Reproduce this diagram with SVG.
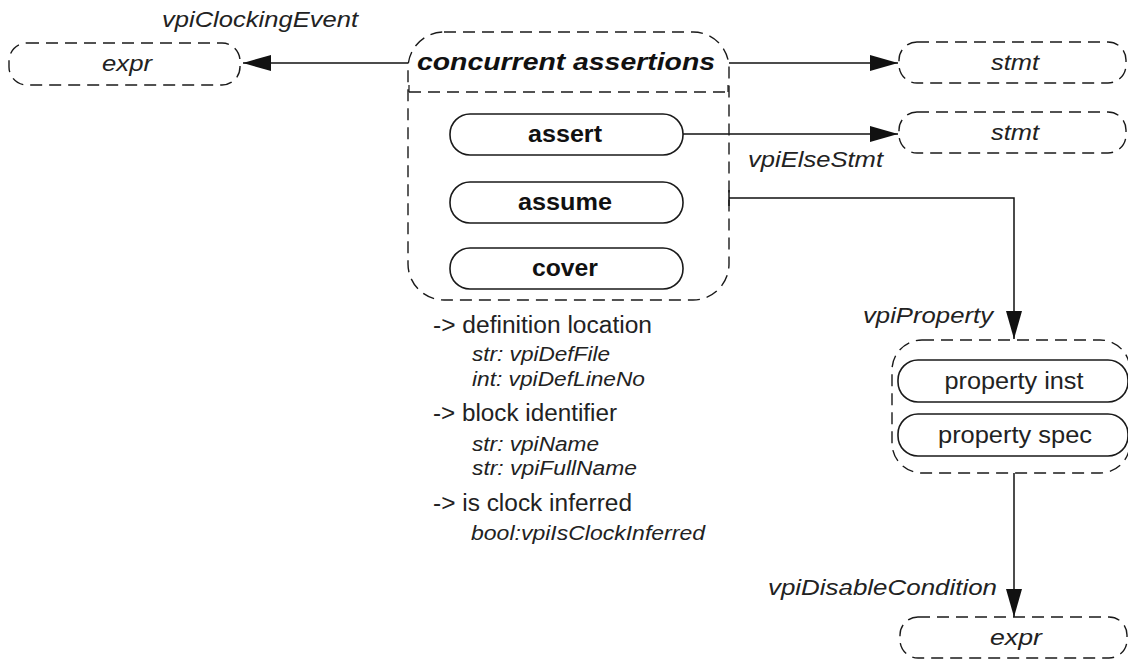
<svg xmlns="http://www.w3.org/2000/svg" width="1128" height="661" viewBox="0 0 1128 661">
<defs>
<style>
.dash{fill:none;stroke:#1a1a1a;stroke-width:1.4;stroke-dasharray:12 7}
.node{fill:#fff;stroke:#1a1a1a;stroke-width:1.6}
.ln{fill:none;stroke:#111;stroke-width:1.5}
.lbl{font-family:"Liberation Sans",Arial,sans-serif;font-style:italic;font-size:22px;fill:#222}
.bold{font-family:"Liberation Sans",Arial,sans-serif;font-weight:bold;font-size:23px;fill:#111;text-anchor:middle}
.title{font-family:"Liberation Sans",Arial,sans-serif;font-weight:bold;font-style:italic;font-size:24px;fill:#111;text-anchor:middle}
.plain{font-family:"Liberation Sans",Arial,sans-serif;font-size:23px;fill:#222}
.prop{font-family:"Liberation Sans",Arial,sans-serif;font-size:23px;fill:#222;text-anchor:middle}
.it{font-family:"Liberation Sans",Arial,sans-serif;font-style:italic;font-size:20px;fill:#222}
.mid{text-anchor:middle}
</style>
<marker id="arr" markerWidth="30" markerHeight="18" refX="28" refY="8" orient="auto" markerUnits="userSpaceOnUse">
<path d="M0,0 L28,8 L0,16 Z" fill="#111"/>
</marker>
</defs>
<rect width="1128" height="661" fill="#fff"/>

<g id="connectors">
<line class="ln" x1="408" y1="63" x2="243" y2="63" marker-end="url(#arr)"/>
<line class="ln" x1="729" y1="63" x2="898" y2="63" marker-end="url(#arr)"/>
<line class="ln" x1="683" y1="134" x2="898" y2="134" marker-end="url(#arr)"/>
<path class="ln" d="M729,198 H1014 V339" marker-end="url(#arr)"/>
<line class="ln" x1="729" y1="190" x2="729" y2="206"/>
<line class="ln" x1="1014" y1="473" x2="1014" y2="617" marker-end="url(#arr)"/>
<text class="lbl" x="162" y="27" textLength="196" lengthAdjust="spacingAndGlyphs">vpiClockingEvent</text>
<text class="lbl" x="748" y="167" textLength="135" lengthAdjust="spacingAndGlyphs">vpiElseStmt</text>
<text class="lbl" x="863" y="323" textLength="130" lengthAdjust="spacingAndGlyphs">vpiProperty</text>
<text class="lbl" x="768" y="595" textLength="229" lengthAdjust="spacingAndGlyphs">vpiDisableCondition</text>
</g>

<g id="expr-left">
<rect class="dash" x="9" y="43" width="231" height="42" rx="18"/>
<text class="lbl mid" x="127" y="71" textLength="50" lengthAdjust="spacingAndGlyphs">expr</text>
</g>

<g id="stmt-top">
<rect class="dash" x="899" y="42" width="227" height="41" rx="18"/>
<text class="lbl mid" x="1015" y="70" textLength="48" lengthAdjust="spacingAndGlyphs">stmt</text>
</g>

<g id="stmt-else">
<rect class="dash" x="899" y="112" width="227" height="41" rx="18"/>
<text class="lbl mid" x="1015" y="140" textLength="48" lengthAdjust="spacingAndGlyphs">stmt</text>
</g>

<g id="concurrent-assertions">
<rect class="dash" x="408" y="32" width="321" height="268" rx="36"/>
<line class="dash" x1="409" y1="92" x2="728" y2="92"/>
<line class="ln" x1="409" y1="85" x2="409" y2="92" style="stroke-width:1.2"/>
<line class="ln" x1="728" y1="85" x2="728" y2="92" style="stroke-width:1.2"/>
<text class="title" x="566" y="70" textLength="298" lengthAdjust="spacingAndGlyphs">concurrent assertions</text>
</g>

<g id="assert">
<rect class="node" x="450" y="114" width="233" height="41" rx="20"/>
<text class="bold" x="565" y="142" textLength="74" lengthAdjust="spacingAndGlyphs">assert</text>
</g>
<g id="assume">
<rect class="node" x="450" y="182" width="233" height="41" rx="20"/>
<text class="bold" x="565" y="210" textLength="94" lengthAdjust="spacingAndGlyphs">assume</text>
</g>
<g id="cover">
<rect class="node" x="450" y="248" width="233" height="41" rx="20"/>
<text class="bold" x="565" y="276" textLength="66" lengthAdjust="spacingAndGlyphs">cover</text>
</g>

<g id="properties-text">
<text class="plain" x="433" y="333" textLength="219" lengthAdjust="spacingAndGlyphs">-&gt; definition location</text>
<text class="it" x="472" y="361" textLength="138" lengthAdjust="spacingAndGlyphs">str: vpiDefFile</text>
<text class="it" x="472" y="386" textLength="173" lengthAdjust="spacingAndGlyphs">int: vpiDefLineNo</text>
<text class="plain" x="433" y="421" textLength="184" lengthAdjust="spacingAndGlyphs">-&gt; block identifier</text>
<text class="it" x="472" y="451" textLength="127" lengthAdjust="spacingAndGlyphs">str: vpiName</text>
<text class="it" x="472" y="475" textLength="165" lengthAdjust="spacingAndGlyphs">str: vpiFullName</text>
<text class="plain" x="433" y="511" textLength="199" lengthAdjust="spacingAndGlyphs">-&gt; is clock inferred</text>
<text class="it" x="471" y="540" textLength="234" lengthAdjust="spacingAndGlyphs">bool:vpiIsClockInferred</text>
</g>

<g id="property">
<rect class="dash" x="892" y="340" width="238" height="133" rx="30"/>
<rect class="node" x="898" y="360" width="230" height="42" rx="20"/>
<text class="prop" x="1014" y="389" textLength="139" lengthAdjust="spacingAndGlyphs">property inst</text>
<rect class="node" x="898" y="414" width="230" height="42" rx="20"/>
<text class="prop" x="1015" y="443" textLength="154" lengthAdjust="spacingAndGlyphs">property spec</text>
</g>

<g id="expr-bottom">
<rect class="dash" x="900" y="617" width="227" height="41" rx="18"/>
<text class="lbl mid" x="1016" y="645" textLength="52" lengthAdjust="spacingAndGlyphs">expr</text>
</g>
</svg>
